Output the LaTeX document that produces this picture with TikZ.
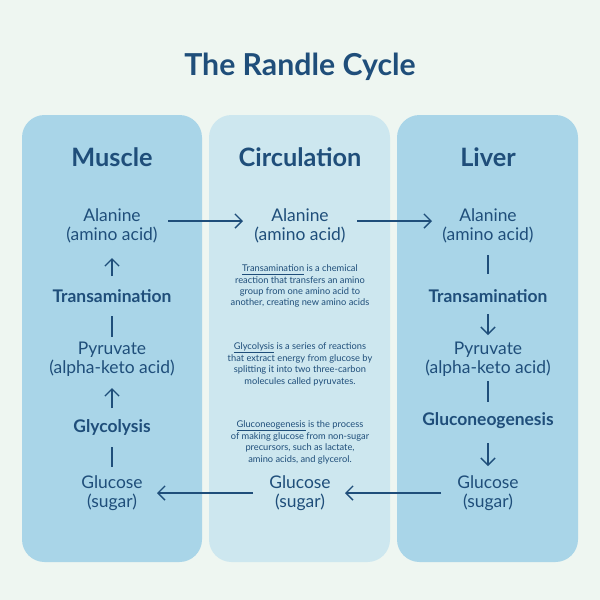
\documentclass[tikz,border=0pt]{standalone}
\usepackage{fontspec}
\setmainfont{Lato}
\usetikzlibrary{arrows.meta}
\definecolor{bg}{HTML}{EEF6F1}
\definecolor{pm}{HTML}{A9D5E8}
\definecolor{pc}{HTML}{CDE7EF}
\definecolor{ink}{HTML}{1F4E7A}
\tikzset{
 panel/.style={rounded corners=16pt, draw=none},
 lbl/.style={text=ink, font=\fontsize{12.4}{13.5}\selectfont, align=center, inner sep=1pt},
 blbl/.style={lbl, font=\fontsize{12.4}{13.5}\selectfont\bfseries},
 hdr/.style={text=ink, font=\fontsize{18}{20}\selectfont\bfseries},
 note/.style={text=ink, font=\fontsize{6.6}{7.9}\selectfont, align=center},
 arr/.style={ink, line width=1pt, -{Straight Barb[length=5pt,width=10pt]}},
 ln/.style={ink, line width=1pt}
}
\begin{document}
\begin{tikzpicture}[x=0.025cm,y=-0.025cm]
\fill[bg] (0,0) rectangle (600,600);
\useasboundingbox (0,0) rectangle (600,600);
\fill[panel,pm] (22,115) rectangle (202,562);
\fill[panel,pc] (209,115) rectangle (390,562);
\fill[panel,pm] (397,115) rectangle (578,562);
\node[text=ink, font=\fontsize{21.5}{24}\selectfont\bfseries] (title) at (300,67) {The Randle Cycle};
\node[hdr] (hm) at (112,157) {Muscle};
\node[hdr] (hc) at (300,157) {Circulation};
\node[hdr] (hl) at (488,157) {Liver};
% muscle
\node[lbl] (ma) at (112,226) {Alanine\\(amino acid)};
\node[blbl] (mt) at (112,296) {Transamination};
\node[lbl] (mp) at (112,359) {Pyruvate\\(alpha-keto acid)};
\node[blbl] (mg) at (112,427) {Glycolysis};
\node[lbl] (mgl) at (112,493) {Glucose\\(sugar)};
% circulation
\node[lbl] (ca) at (300,226) {Alanine\\(amino acid)};
\node[lbl] (cg) at (300,493) {Glucose\\(sugar)};
% liver
\node[lbl] (la) at (488,226) {Alanine\\(amino acid)};
\node[blbl] (lt) at (488,296) {Transamination};
\node[lbl] (lp) at (488,359) {Pyruvate\\(alpha-keto acid)};
\node[blbl] (lg) at (488,421) {Gluconeogenesis};
\node[lbl] (lgl) at (488,493) {Glucose\\(sugar)};
% notes
\node[note] (n1) at (300,286) {\underline{Transamination} is a chemical\\reaction that transfers an amino\\group from one amino acid to\\another, creating new amino acids};
\node[note] (n2) at (300,364) {\underline{Glycolysis} is a series of reactions\\that extract energy from glucose by\\splitting it into two three-carbon\\molecules called pyruvates.};
\node[note] (n3) at (300,442) {\underline{Gluconeogenesis} is the process\\of making glucose from non-sugar\\precursors, such as lactate,\\amino acids, and glycerol.};
% horizontal arrows
\draw[arr] (168,221) -- (243,221);
\draw[arr] (357,221) -- (432,221);
\draw[arr] (441,493) -- (345,493);
\draw[arr] (253,493) -- (157,493);
% muscle verticals
\draw[arr] (112,276) -- (112,258);
\draw[ln] (112,316) -- (112,337);
\draw[arr] (112,408) -- (112,388);
\draw[ln] (112,447) -- (112,467);
% liver verticals
\draw[ln] (488,255) -- (488,274);
\draw[arr] (488,314) -- (488,335);
\draw[ln] (488,381) -- (488,402);
\draw[arr] (488,443) -- (488,466);
\end{tikzpicture}
\end{document}
